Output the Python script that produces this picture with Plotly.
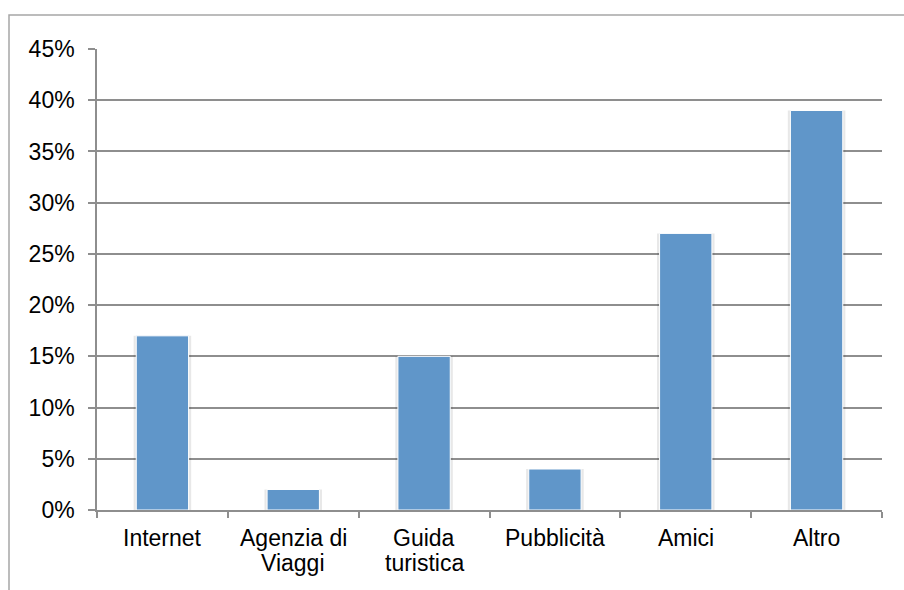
import plotly.graph_objects as go

# Fonte di informazione sulla destinazione (quota di risposte)
categorie = ["Internet", "Agenzia di Viaggi", "Guida turistica", "Pubblicità", "Amici", "Altro"]
etichette = [["Internet"], ["Agenzia di", "Viaggi"], ["Guida", "turistica"], ["Pubblicità"], ["Amici"], ["Altro"]]
quote = [0.17, 0.02, 0.15, 0.04, 0.27, 0.39]
tick_valori = [0, 0.05, 0.10, 0.15, 0.20, 0.25, 0.30, 0.35, 0.40, 0.45]
tick_testi = ["0%", "5%", "10%", "15%", "20%", "25%", "30%", "35%", "40%", "45%"]

W, H = 904, 590
ML, MR, MT, MB = 97, 22, 49, 80
pw, ph = W - ML - MR, H - MT - MB
FONT = "Liberation Sans, Arial, sans-serif"
FS = 23

fig = go.Figure()

# soft shadow behind each column
fig.add_trace(go.Bar(
    x=categorie, y=quote, width=0.44,
    marker=dict(color="rgba(0,0,0,0.09)", line=dict(width=0)),
    hoverinfo="skip", showlegend=False,
))
fig.add_trace(go.Bar(
    x=categorie, y=quote, width=0.40,
    marker=dict(color="#6096C9", line=dict(color="white", width=1)),
    showlegend=False,
))

# category labels, one line at a time for tighter line spacing
annotazioni = []
for cat, righe in zip(categorie, etichette):
    for i, riga in enumerate(righe):
        annotazioni.append(dict(
            x=cat, xref="x", y=0, yref="paper",
            text=riga, showarrow=False,
            xanchor="center", yanchor="middle",
            yshift=-(27.5 + 25 * i),
            font=dict(family=FONT, size=FS, color="black"),
        ))

grid = "#8E8E8E"
fig.update_layout(
    width=W, height=H,
    margin=dict(l=ML, r=MR, t=MT, b=MB),
    paper_bgcolor="white", plot_bgcolor="white",
    barmode="overlay",
    font=dict(family=FONT, size=FS, color="black"),
    xaxis=dict(
        range=[-0.5, 5.5],
        showline=True, linecolor=grid, linewidth=1.5,
        ticks="outside", tickcolor=grid, ticklen=6, tickwidth=1.5,
        tickson="boundaries", showgrid=False,
        showticklabels=False,
    ),
    yaxis=dict(
        range=[0, 0.45],
        tickvals=tick_valori, ticktext=tick_testi,
        showline=True, linecolor=grid, linewidth=1.5,
        ticks="outside", tickcolor=grid, ticklen=7, tickwidth=1.5,
        showgrid=True, gridcolor=grid, gridwidth=1.5,
        zeroline=False, ticklabelstandoff=9,
        tickfont=dict(size=FS),
    ),
    annotations=annotazioni,
    shapes=[dict(
        type="rect", xref="paper", yref="paper",
        x0=(9 - ML) / pw, x1=(W + 10 - ML) / pw,
        y0=-(H + 10 - MT - ph) / ph, y1=1 + (MT - 15) / ph,
        line=dict(color="#A6A6A6", width=1.5), layer="below",
    )],
)

fig.write_html("out.html")
